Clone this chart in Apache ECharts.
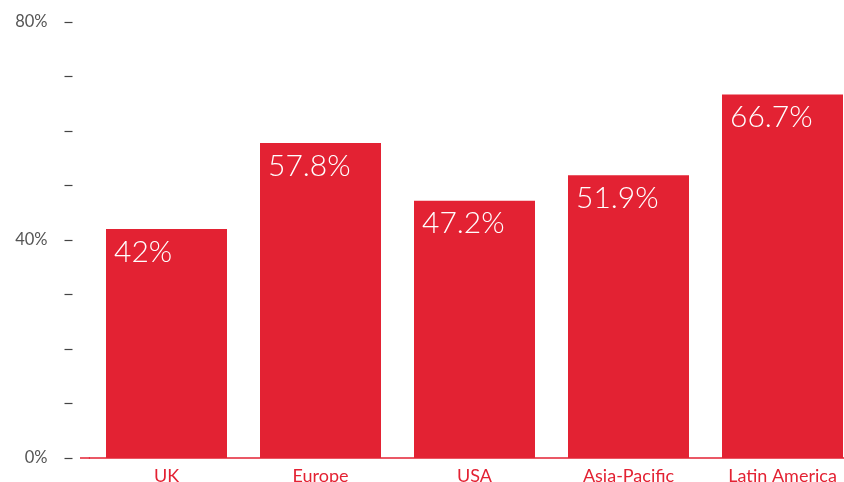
<!DOCTYPE html>
<html><head><meta charset="utf-8">
<script src="https://cdn.jsdelivr.net/npm/echarts@6/dist/echarts.min.js"></script>
<style>html,body{margin:0;padding:0;background:#fff}#c{width:844px;height:482px}</style>
</head><body><div id="c"></div>
<script>
const categories = ['UK', 'Europe', 'USA', 'Asia-Pacific', 'Latin America'];
const values = [42, 57.8, 47.2, 51.9, 66.7];
const yTickLabels = {0: '0%', 40: '40%', 80: '80%'};

const RED = '#e32233';
const chart = echarts.init(document.getElementById('c'));
chart.setOption({
  animation: false,
  grid: {left: 89.5, top: 22, width: 770, bottom: 24, containLabel: false, outerBoundsMode: 'none'},
  xAxis: {
    type: 'category', data: categories,
    axisLine: {show: true, lineStyle: {color: RED, width: 1.5}},
    axisTick: {show: false},
    axisLabel: {color: RED, fontSize: 18, margin: 9, fontFamily: 'Lato, Noto Sans, sans-serif'}
  },
  yAxis: {
    type: 'value', min: 0, max: 80, interval: 10, offset: 17,
    splitLine: {show: false},
    axisLine: {show: false},
    axisTick: {show: true, length: 8, lineStyle: {color: '#444', width: 1.2}},
    axisLabel: {
      color: '#555', fontSize: 16.5, margin: 25, fontFamily: 'Lato, Noto Sans, sans-serif',
      formatter: v => yTickLabels[v] !== undefined ? yTickLabels[v] : ''
    }
  },
  series: [{
    type: 'bar', data: values, barWidth: 121,
    itemStyle: {color: RED},
    label: {
      show: true, position: 'insideTopLeft', distance: 8, color: '#fff',
      fontSize: 30, fontWeight: 300, fontFamily: 'Lato, Noto Sans, sans-serif',
      formatter: p => p.value + '%'
    }
  }]
});
// extend the baseline slightly to the left, as in the original
const y0 = chart.convertToPixel({yAxisIndex: 0}, 0);
chart.setOption({
  graphic: [{type: 'line', shape: {x1: 80, y1: y0, x2: 90, y2: y0}, style: {stroke: RED, lineWidth: 1.5}}]
});
</script></body></html>
